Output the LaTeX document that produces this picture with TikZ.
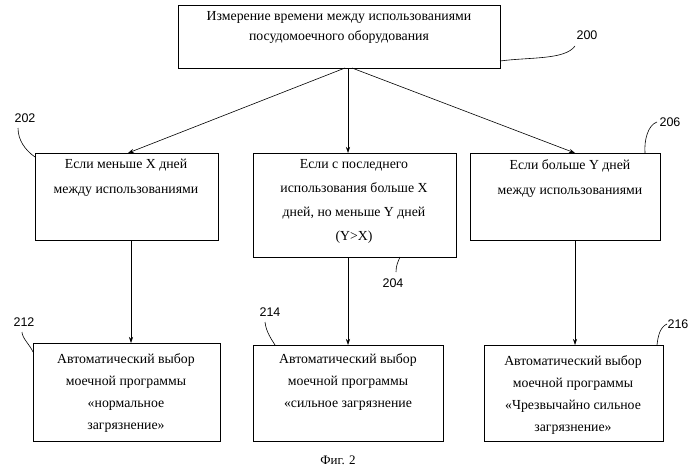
\documentclass[tikz,border=0pt]{standalone}
\usepackage{fontspec}
\setmainfont{Liberation Serif}
\newfontfamily\lblfont{Liberation Sans}
\usetikzlibrary{arrows.meta}
\begin{document}
\begin{tikzpicture}[x=1pt,y=-1pt,
  box/.style={draw,line width=0.8pt},
  txt/.style={align=center,font=\fontsize{13.8}{22}\selectfont,anchor=north,inner sep=0pt},
  lbl/.style={font=\lblfont\fontsize{12.5}{13}\selectfont},
  arr/.style={-{Stealth[length=6pt,width=4pt]},line width=0.6pt},
  lead/.style={line width=0.6pt}]
\useasboundingbox (0,0) rectangle (700,471);
% top box
\draw[box] (178,5) rectangle (500,68);
\node[txt,font=\fontsize{13.8}{20}\selectfont] (t0) at (339,11) {Измерение времени между использованиями\\посудомоечного оборудования};
% middle boxes
\draw[box] (35,153) rectangle (218,240);
\node[txt,font=\fontsize{13.8}{25}\selectfont] (t1) at (126,159) {Если меньше X дней\\между использованиями};
\draw[box] (253,153) rectangle (456,257);
\node[txt,font=\fontsize{13.8}{24}\selectfont] (t2) at (354,159) {Если с последнего\\использования больше X\\дней, но меньше Y дней\\(Y>X)};
\draw[box] (470,153) rectangle (660,240);
\node[txt,font=\fontsize{13.8}{25}\selectfont] (t3) at (570,159) {Если больше Y дней\\между использованиями};
% bottom boxes
\draw[box] (33,343) rectangle (220,441);
\node[txt] (b1) at (126,353) {Автоматический выбор\\моечной программы\\«нормальное\\загрязнение»};
\draw[box] (253,345) rectangle (443,441);
\node[txt] (b2) at (348,353) {Автоматический выбор\\моечной программы\\«сильное загрязнение};
\draw[box] (484,345) rectangle (663,441);
\node[txt] (b3) at (573,355) {Автоматический выбор\\моечной программы\\«Чрезвычайно сильное\\загрязнение»};
% arrows
\draw[arr] (345,68) -- (128,153);
\draw[arr] (348,68) -- (348,153);
\draw[arr] (352,68) -- (575,153);
\draw[arr] (131,240) -- (131,343);
\draw[arr] (348,257) -- (348,345);
\draw[arr] (575,240) -- (575,345);
% labels
\node[lbl] (l200) at (587,35) {200};
\draw[lead] (575,46) .. controls (565,60) and (530,57) .. (500,61);
\node[lbl] (l202) at (25,118) {202};
\draw[lead] (18,128) .. controls (18,140) and (25,150) .. (35,157);
\node[lbl] (l206) at (670,122) {206};
\draw[lead] (657,122) .. controls (648,125) and (644,140) .. (645,153);
\node[lbl] (l204) at (393,283) {204};
\draw[lead] (396,272) .. controls (396,265) and (398,262) .. (400,257);
\node[lbl] (l212) at (24,322) {212};
\draw[lead] (22,332) .. controls (22,338) and (30,345) .. (33,352);
\node[lbl] (l214) at (270,312) {214};
\draw[lead] (265,322) .. controls (266,332) and (272,340) .. (275,345);
\node[lbl] (l216) at (678,324) {216};
\draw[lead] (667,324) .. controls (660,327) and (658,336) .. (657,345);
\node[font=\fontsize{13}{14}\selectfont] (fig) at (338,460) {Фиг. 2};
\end{tikzpicture}
\end{document}
